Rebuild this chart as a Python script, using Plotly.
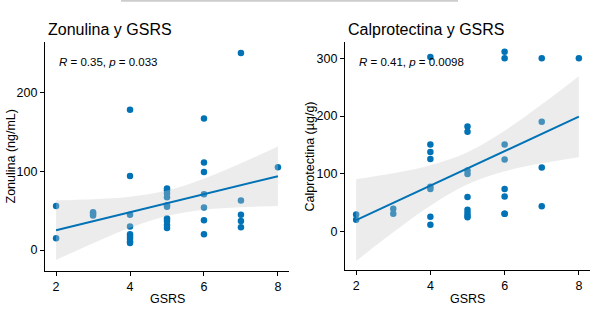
import plotly.graph_objects as go

# ---------------- data ----------------
# Left panel: Zonulina (ng/mL) vs GSRS
zon_gsrs = [2, 2,
            3, 3, 3,
            4, 4, 4, 4, 4, 4, 4, 4, 4,
            5, 5, 5, 5, 5, 5, 5, 5, 5, 5,
            6, 6, 6, 6, 6, 6, 6,
            7, 7, 7, 7, 7,
            8]
zon_vals = [56, 15,
            48, 46, 44,
            178, 94, 45, 30, 20, 17, 14, 11, 9,
            78, 76, 72, 67, 57, 55, 40, 37, 32, 28,
            167, 111, 99, 71, 54, 38, 20,
            250, 63, 45, 37, 29,
            105]

# Right panel: Calprotectina (µg/g) vs GSRS
cal_gsrs = [2, 2,
            3, 3,
            4, 4, 4, 4, 4, 4, 4, 4,
            5, 5, 5, 5, 5, 5, 5, 5, 5,
            6, 6, 6, 6, 6, 6, 6, 6,
            7, 7, 7, 7,
            8]
cal_vals = [30, 21,
            40, 31,
            302, 151, 138, 126, 78, 74, 26, 12,
            182, 173, 106, 100, 60, 38, 33, 28, 25,
            311, 300, 151, 125, 74, 61, 31, 31,
            300, 190, 111, 44,
            300]

# regression line and 95% confidence band
fit_x = [2, 3, 4, 5, 6, 7, 8]
zon_fit = [25.3, 36.7, 48.1, 59.5, 70.9, 82.3, 93.7]
zon_hi = [63.1, 64.6, 67.8, 75.6, 90.6, 110.2, 131.5]
zon_lo = [-12.5, 8.8, 28.4, 43.4, 51.2, 54.4, 55.9]
cal_fit = [20.3, 50.1, 79.9, 109.7, 139.5, 169.3, 199.0]
cal_hi = [91.0, 101.1, 114.9, 137.4, 174.5, 220.3, 269.0]
cal_lo = [-50.4, -0.9, 44.9, 82.0, 104.5, 118.3, 129.0]

x_ticks = [2, 4, 6, 8]
zon_yticks = [0, 100, 200]
cal_yticks = [0, 100, 200, 300]

titles = ["Zonulina y GSRS", "Calprotectina y GSRS"]
ylabels = ["Zonulina (ng/mL)", "Calprotectina (µg/g)"]
xlabel = "GSRS"
stats = ["<i>R</i> = 0.35, <i>p</i> = 0.033", "<i>R</i> = 0.41, <i>p</i> = 0.0098"]

# ---------------- style ----------------
W, H = 593, 316
FONT = "Liberation Sans, Arial, sans-serif"
BLUE = "#0072B5"
BAND = "rgba(200,200,200,0.35)"


def px_x(p):
    return p / W


def px_y(p):
    return 1 - p / H


fig = go.Figure()

panels = [
    (zon_gsrs, zon_vals, zon_fit, zon_hi, zon_lo, "x", "y"),
    (cal_gsrs, cal_vals, cal_fit, cal_hi, cal_lo, "x2", "y2"),
]
for gx, gv, fy, hi, lo, xa, ya in panels:
    fig.add_trace(go.Scatter(x=gx, y=gv, mode="markers", xaxis=xa, yaxis=ya,
                             marker=dict(color=BLUE, size=6.5, line=dict(width=0)),
                             showlegend=False, hoverinfo="skip"))
    fig.add_trace(go.Scatter(x=fit_x, y=lo, mode="lines", xaxis=xa, yaxis=ya,
                             line=dict(width=0, shape="spline"),
                             showlegend=False, hoverinfo="skip"))
    fig.add_trace(go.Scatter(x=fit_x, y=hi, mode="lines", xaxis=xa, yaxis=ya,
                             line=dict(width=0, shape="spline"),
                             fill="tonexty", fillcolor=BAND,
                             showlegend=False, hoverinfo="skip"))
    fig.add_trace(go.Scatter(x=fit_x, y=fy, mode="lines", xaxis=xa, yaxis=ya,
                             line=dict(color=BLUE, width=2),
                             showlegend=False, hoverinfo="skip"))

axis_common = dict(showline=True, linecolor="black", linewidth=1.1,
                   ticks="outside", ticklen=4, tickwidth=1.1, tickcolor="black",
                   showgrid=False, zeroline=False, mirror=False,
                   tickfont=dict(family=FONT, size=12.5, color="black"))

# pixel geometry of the plotting areas
L1, R1 = 45, 289
L2, R2 = 345, 590
TOP, BOT1, BOT2 = 42, 271, 270

fig.update_layout(
    width=W, height=H,
    margin=dict(l=0, r=0, t=0, b=0),
    paper_bgcolor="white", plot_bgcolor="white",
    font=dict(family=FONT, color="black"),
    xaxis=dict(domain=[px_x(L1), px_x(R1)], range=[1.7, 8.3], tickvals=x_ticks,
               anchor="y", **axis_common),
    yaxis=dict(domain=[px_y(BOT1), px_y(TOP)], range=[-26.5, 264], tickvals=zon_yticks,
               anchor="x", **axis_common),
    xaxis2=dict(domain=[px_x(L2), px_x(R2)], range=[1.7, 8.3], tickvals=x_ticks,
                anchor="y2", **axis_common),
    yaxis2=dict(domain=[px_y(BOT2), px_y(TOP)], range=[-66, 328], tickvals=cal_yticks,
                anchor="x2", **axis_common),
)

ann = []
# titles
for t, xl in zip(titles, [L1 + 1, L2 + 1]):
    ann.append(dict(text=t, x=px_x(xl), y=px_y(29), xref="paper", yref="paper",
                    xanchor="left", yanchor="middle", showarrow=False,
                    font=dict(family=FONT, size=16, color="black")))
# stats text
for s, xl in zip(stats, [57, 357]):
    ann.append(dict(text=s, x=px_x(xl), y=px_y(62), xref="paper", yref="paper",
                    xanchor="left", yanchor="middle", showarrow=False,
                    font=dict(family=FONT, size=11.5, color="black")))
# x axis titles
for xc in [(L1 + R1) / 2, (L2 + R2) / 2]:
    ann.append(dict(text=xlabel, x=px_x(xc), y=px_y(299), xref="paper", yref="paper",
                    xanchor="center", yanchor="middle", showarrow=False,
                    font=dict(family=FONT, size=12.5, color="black")))
# y axis titles
for yl, xc, yc in zip(ylabels, [10, 309.5], [(TOP + BOT1) / 2, (TOP + BOT2) / 2]):
    ann.append(dict(text=yl, x=px_x(xc), y=px_y(yc), xref="paper", yref="paper",
                    xanchor="center", yanchor="middle", showarrow=False, textangle=-90,
                    font=dict(family=FONT, size=12.5, color="black")))
fig.update_layout(annotations=ann)

# thin grey rule at the very top of the image
fig.add_shape(type="line", xref="paper", yref="paper",
              x0=px_x(121), x1=px_x(458), y0=px_y(0.8), y1=px_y(0.8),
              line=dict(color="#CCCCCC", width=2))

fig.write_html(
    "out.html",
    config={"displayModeBar": False},
    post_script="document.body.style.margin='0';document.body.style.padding='0';"
                "document.body.style.overflow='hidden';",
)
